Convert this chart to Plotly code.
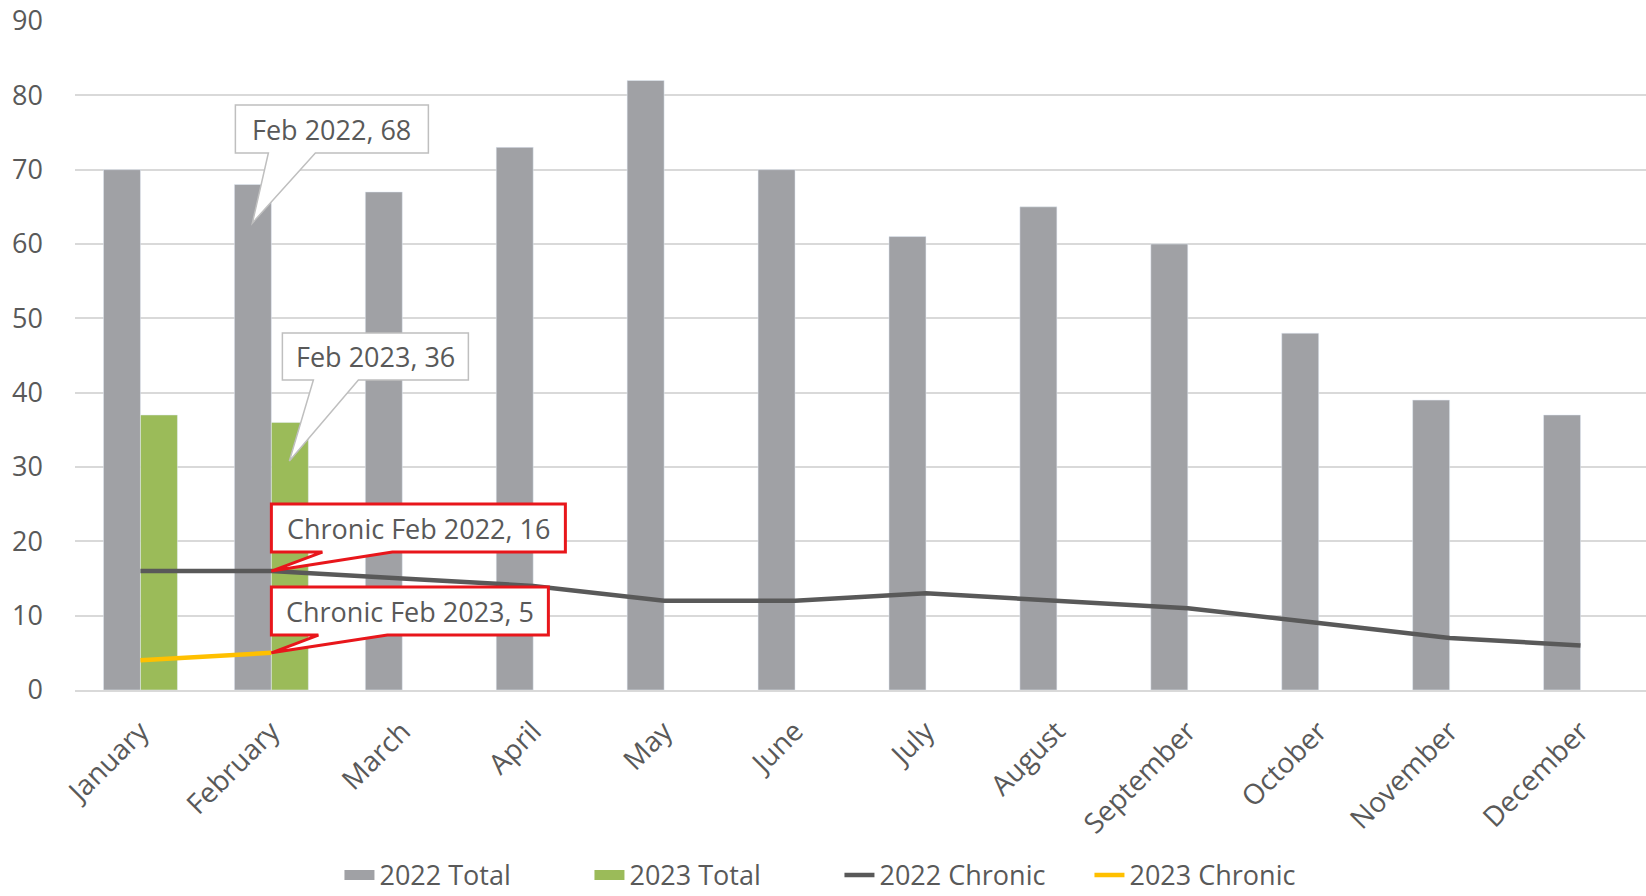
import plotly.graph_objects as go

months = ["January", "February", "March", "April", "May", "June", "July",
          "August", "September", "October", "November", "December"]
total_2022 = [70, 68, 67, 73, 82, 70, 61, 65, 60, 48, 39, 37]
total_2023 = [37, 36, None, None, None, None, None, None, None, None, None, None]
chronic_2022 = [16, 16, 15, 14, 12, 12, 13, 12, 11, 9, 7, 6]
chronic_2023 = [4, 5, None, None, None, None, None, None, None, None, None, None]

TXT = "#595959"
FONT = "Open Sans"
GREY = "#A0A1A5"
GREEN = "#9BBB59"

fig = go.Figure()
fig.add_trace(go.Bar(x=months, y=total_2022, name="2022 Total", marker_color=GREY,
                     showlegend=False, legendgroup="a"))
fig.add_trace(go.Bar(x=months, y=total_2023, name="2023 Total", marker_color=GREEN,
                     showlegend=False, legendgroup="b"))
# legend-only entries giving wide rectangular swatches for the bar series
fig.add_trace(go.Scatter(x=[None], y=[None], name="2022 Total", mode="lines",
                         line=dict(color=GREY, width=20), legendgroup="a"))
fig.add_trace(go.Scatter(x=[None], y=[None], name="2023 Total", mode="lines",
                         line=dict(color=GREEN, width=20), legendgroup="b"))
fig.add_trace(go.Scatter(x=months, y=chronic_2022, name="2022 Chronic", mode="lines",
                         line=dict(color="#595959", width=4.5)))
fig.add_trace(go.Scatter(x=months, y=chronic_2023, name="2023 Chronic", mode="lines",
                         line=dict(color="#FFC000", width=4.5)))

# callouts: anchor (category, value); geometry in pixels relative to anchor (y up)
callouts = [
    dict(text="Feb 2022, 68", x=months[1], y=total_2022[1], box=(-36, 157, 31.5, 79.5),
         wedge=(-3, 44), tip=(-19, -38.5), color="#BFBFBF", lw=1.5),
    dict(text="Feb 2023, 36", x=months[1], y=total_2023[1], box=(11, 197, 42.4, 89.4),
         wedge=(42, 87), tip=(18, -38.6), color="#BFBFBF", lw=1.5),
    dict(text="Chronic Feb 2022, 16", x=months[1], y=chronic_2022[1], box=(0, 294, 19, 67),
         wedge=(51, 121), tip=(0, 0), color="#E8161B", lw=3),
    dict(text="Chronic Feb 2023, 5", x=months[1], y=chronic_2023[1], box=(0, 277, 17.8, 65.8),
         wedge=(47, 116), tip=(0, 0), color="#E8161B", lw=3),
]
for c in callouts:
    x0, x1, yb, yt = c["box"]
    w0, w1 = c["wedge"]
    tx, ty = c["tip"]
    path = (f"M{x0},{yt} L{x1},{yt} L{x1},{yb} L{w1},{yb} L{tx},{ty} "
            f"L{w0},{yb} L{x0},{yb} Z")
    fig.add_shape(type="path", path=path, xref="x", yref="y",
                  xsizemode="pixel", ysizemode="pixel",
                  xanchor=c["x"], yanchor=c["y"],
                  fillcolor="white", line=dict(color=c["color"], width=c["lw"]),
                  layer="above")
    fig.add_annotation(x=c["x"], y=c["y"], xref="x", yref="y", text=c["text"],
                       showarrow=False, xanchor="center", yanchor="middle",
                       xshift=(x0 + x1) / 2, yshift=(yb + yt) / 2,
                       font=dict(family=FONT, size=27, color=TXT))

fig.update_layout(
    width=1646, height=896,
    margin=dict(l=75, r=0, t=21, b=206),
    paper_bgcolor="white", plot_bgcolor="white",
    barmode="group", bargap=0.435, bargroupgap=0,
    font=dict(family=FONT, color=TXT, size=27),
    showlegend=True,
    legend=dict(orientation="h", xref="container", yref="container",
                x=0.51, y=0.023, xanchor="center", yanchor="middle",
                font=dict(family=FONT, size=27, color=TXT),
                entrywidth=205, entrywidthmode="pixels",
                traceorder="normal", tracegroupgap=0),
)
fig.update_xaxes(showgrid=False, showline=True, linecolor="#D9D9D9", linewidth=1.5,
                 tickangle=-45, tickfont=dict(family=FONT, size=28, color=TXT),
                 ticks="", ticklabelstandoff=12)
fig.update_yaxes(range=[0, 90], dtick=10, showgrid=True, gridcolor="#D9D9D9", gridwidth=1.5,
                 zeroline=False, showline=False, ticks="",
                 tickfont=dict(family=FONT, size=27, color=TXT), ticklabelstandoff=31)

fig.write_html("out.html")
